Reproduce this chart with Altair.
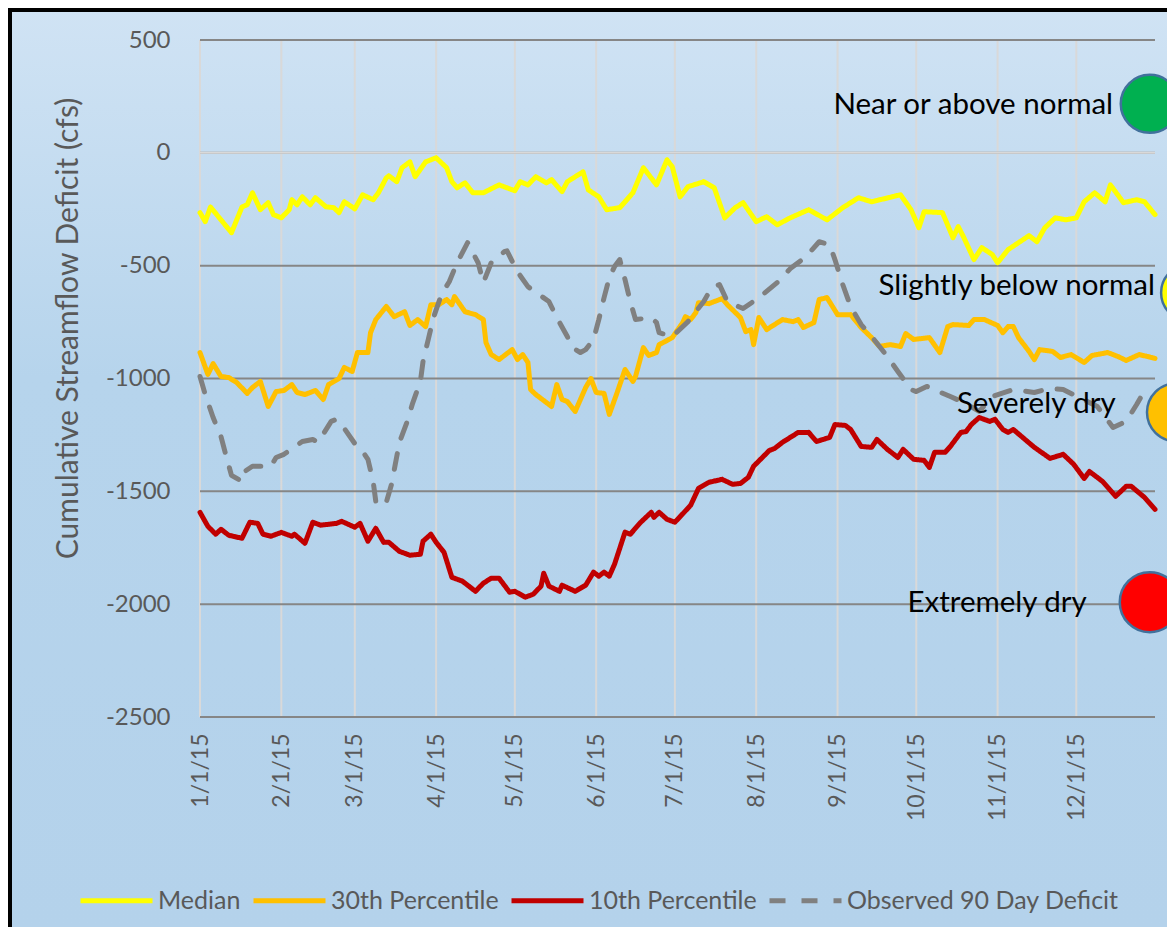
import altair as alt
import pandas as pd

# ---------------- data (day of year 2015, value in cfs) ----------------
series_names = ["Median", "30th Percentile", "10th Percentile", "Observed 90 Day Deficit"]
series_colors = ["#ffff00", "#ffc000", "#c00000", "#808080"]
series_dash = [[1, 0], [1, 0], [1, 0], [16, 16]]

median_pts = [(0,-265),(2,-305),(4,-240),(12,-354),(16,-240),(18,-230),(20,-177),(23,-252),(26,-221),(28,-274),
              (31,-288),(34,-252),(35,-208),(37,-230),(39,-195),(42,-230),(44,-199),(48,-239),(51,-243),(53,-265),
              (55,-217),(59,-248),(62,-186),(66,-208),(68,-177),(71,-111),(72,-102),(75,-128),(77,-66),(80,-40),
              (82,-106),(86,-40),(90,-22),(94,-66),(96,-128),(98,-155),(101,-133),(104,-177),(108,-177),(114,-142),
              (120,-168),(122,-128),(125,-142),(128,-106),(132,-133),(134,-119),(138,-172),(140,-128),(146,-84),
              (148,-164),(152,-195),(155,-252),(160,-243),(162,-217),(165,-177),(169,-66),(174,-142),(178,-31),
              (180,-62),(183,-195),(186,-150),(192,-128),(196,-155),(200,-288),(204,-243),(207,-221),(212,-305),
              (216,-283),(220,-319),(225,-288),(232,-252),(239,-297),(245,-243),(251,-199),(256,-217),(267,-186),
              (271,-252),(274,-332),(276,-261),(283,-265),(287,-376),(289,-327),(291,-372),(295,-473),(298,-420),
              (302,-451),(304,-487),(308,-429),(312,-398),(316,-367),(319,-394),(322,-332),(326,-288),(330,-297),
              (334,-288),(337,-217),(341,-177),(345,-217),(347,-142),(352,-221),(357,-208),(360,-217),(364,-274)]

p30_pts = [(0,-885),(3,-982),(5,-934),(8,-991),(11,-996),(14,-1018),(18,-1066),(20,-1040),(23,-1013),(26,-1124),
           (29,-1058),(32,-1053),(35,-1027),(37,-1062),(40,-1071),(44,-1053),(47,-1093),(49,-1027),(53,-1000),
           (55,-951),(58,-969),(60,-885),(64,-885),(65,-797),(67,-739),(71,-681),(74,-726),(78,-704),(80,-765),
           (83,-739),(86,-770),(88,-673),(91,-673),(94,-650),(96,-673),(97,-637),(101,-704),(105,-717),(108,-739),
           (109,-841),(111,-894),(114,-916),(119,-872),(121,-916),(123,-894),(125,-929),(126,-1049),(128,-1071),
           (134,-1124),(136,-1027),(138,-1093),(140,-1102),(143,-1146),(147,-1040),(149,-1000),(151,-1062),
           (154,-1066),(156,-1159),(159,-1062),(162,-960),(165,-1013),(166,-991),(169,-863),(171,-898),(174,-885),
           (175,-850),(180,-819),(184,-752),(185,-726),(187,-739),(189,-708),(190,-664),(194,-668),(199,-646),
           (201,-673),(206,-730),(208,-792),(210,-783),(211,-850),(213,-730),(216,-783),(222,-739),(226,-748),
           (228,-739),(230,-774),(234,-752),(236,-650),(239,-642),(243,-717),(248,-717),(252,-774),(256,-819),
           (259,-858),(263,-850),(267,-858),(269,-801),(272,-827),(278,-819),(282,-885),(285,-770),(287,-761),
           (293,-765),(295,-739),(299,-739),(304,-765),(306,-797),(308,-770),(310,-770),(312,-819),(316,-880),
           (318,-916),(320,-872),(325,-880),(328,-907),(332,-894),(337,-929),(340,-898),(346,-885),(350,-903),
           (353,-920),(358,-894),(364,-911)]

p10_pts = [(0,-1593),(3,-1655),(6,-1690),(8,-1668),(11,-1695),(16,-1708),(19,-1637),(22,-1642),(24,-1690),
           (27,-1699),(31,-1682),(35,-1699),(36,-1690),(40,-1730),(43,-1637),(46,-1650),(52,-1642),(54,-1633),
           (59,-1659),(61,-1642),(64,-1721),(67,-1664),(70,-1726),(72,-1726),(76,-1766),(80,-1783),(84,-1779),
           (85,-1721),(88,-1690),(90,-1726),(93,-1770),(96,-1881),(100,-1898),(105,-1943),(108,-1907),(111,-1885),
           (114,-1885),(118,-1947),(120,-1943),(124,-1969),(127,-1956),(130,-1920),(131,-1863),(133,-1920),
           (137,-1943),(138,-1916),(143,-1943),(147,-1916),(150,-1858),(152,-1876),(154,-1858),(156,-1876),
           (158,-1823),(162,-1681),(164,-1690),(168,-1637),(172,-1593),(173,-1615),(175,-1593),(178,-1624),
           (181,-1637),(187,-1562),(190,-1487),(194,-1460),(199,-1447),(203,-1469),(206,-1465),(209,-1438),
           (211,-1389),(217,-1319),(219,-1310),(222,-1283),(228,-1239),(232,-1239),(235,-1279),(240,-1261),
           (242,-1204),(246,-1208),(248,-1226),(252,-1301),(256,-1305),(258,-1270),(262,-1314),(266,-1350),
           (268,-1314),(272,-1358),(276,-1363),(278,-1394),(280,-1327),(284,-1327),(286,-1301),(290,-1239),
           (292,-1235),(294,-1204),(297,-1173),(301,-1190),(303,-1181),(306,-1226),(308,-1239),(310,-1226),
           (318,-1305),(324,-1354),(329,-1336),(333,-1380),(337,-1443),(339,-1412),(344,-1456),(349,-1522),
           (353,-1478),(355,-1478),(360,-1527),(364,-1580)]

obs_pts = [(0,-991),(2,-1071),(5,-1173),(8,-1257),(10,-1345),(12,-1429),(16,-1456),(17,-1412),(20,-1389),
           (27,-1389),(29,-1350),(32,-1336),(39,-1279),(43,-1270),(45,-1283),(50,-1190),(52,-1181),(55,-1221),
           (60,-1305),(62,-1323),(64,-1358),(66,-1456),(67,-1544),(69,-1566),(71,-1549),(73,-1469),(76,-1283),
           (79,-1190),(81,-1111),(84,-1013),(85,-925),(87,-827),(89,-730),(92,-628),(95,-571),(98,-487),
           (102,-398),(106,-487),(108,-575),(111,-487),(116,-438),(117,-434),(121,-527),(125,-593),(133,-659),
           (136,-730),(140,-814),(142,-863),(145,-885),(147,-872),(150,-827),(152,-739),(154,-642),(156,-553),
           (158,-504),(160,-473),(162,-562),(164,-659),(166,-739),(172,-730),(174,-752),(175,-797),(180,-814),
           (186,-748),(192,-659),(195,-597),(198,-584),(201,-659),(207,-690),(213,-642),(220,-575),(225,-513),
           (231,-460),(236,-394),(240,-407),(242,-473),(245,-584),(248,-681),(252,-761),(256,-814),(262,-903),
           (266,-969),(271,-1049),(273,-1058),(277,-1035),(286,-1080),(291,-1106),(297,-1146),(302,-1080),
           (310,-1049),(318,-1062),(324,-1044),(329,-1049),(335,-1084),(342,-1124),(348,-1217),(353,-1190),
           (357,-1115),(361,-1035)]

y_ticks = [500, 0, -500, -1000, -1500, -2000, -2500]
month_starts = ["2015-%02d-01" % m for m in range(1, 13)]
x_domain = ["2015-01-01", "2015-12-31"]

# status annotations (text right-aligned at date/value, circles at date/value)
status_text = ["Near or above normal", "Slightly below normal", "Severely dry", "Extremely dry"]
status_text_date = ["2015-12-15", "2015-12-31", "2015-12-16", "2015-12-05"]
status_text_val = [212, -589, -1111, -1996]
circle_date = ["2015-12-29", "2016-01-13", "2016-01-08", "2015-12-29"]
circle_val = [217, -620, -1150, -1991]
circle_fill = ["#00b050", "#ffff00", "#ffc000", "#ff0000"]
circle_size = [3364, 3136, 3364, 3600]

# ---------------- build tables ----------------
START = pd.Timestamp("2015-01-01")


def as_dates(days):
    return [(START + pd.Timedelta(days=int(d))).strftime("%Y-%m-%d") for d in days]


frames = []
for name, pts in zip(series_names, [median_pts, p30_pts, p10_pts, obs_pts]):
    days = [p[0] for p in pts]
    vals = [p[1] for p in pts]
    frames.append(pd.DataFrame({"date": as_dates(days), "value": vals, "series": name}))
lines_df = pd.concat(frames, ignore_index=True)

grid_y_df = pd.DataFrame({"value": y_ticks})
grid_x_df = pd.DataFrame({"date": month_starts})
zero_df = pd.DataFrame({"value": [0]})
text_df = pd.DataFrame({"date": status_text_date, "value": status_text_val, "label": status_text})
circ_df = pd.DataFrame({"date": circle_date, "value": circle_val, "fill": circle_fill, "size": circle_size})

FONT = "Lato"
GREY_TXT = "#595959"

x_scale = alt.Scale(type="utc", domain=x_domain)
y_scale = alt.Scale(domain=[-2500, 500], nice=False, zero=False)

x_axis = alt.Axis(
    values=[alt.DateTime(year=2015, month=m, date=1, utc=True) for m in range(1, 13)],
    labelExpr="utcFormat(datum.value, '%-m/%-d/%y')", labelAngle=270, grid=False, domain=False,
    ticks=False, labelFont=FONT, labelFontSize=23, labelColor=GREY_TXT, labelPadding=16,
    labelOverlap=False, title=None, zindex=1)
y_axis = alt.Axis(
    values=y_ticks, labelExpr="'' + datum.value", grid=False, domain=False, ticks=False,
    labelFont=FONT, labelFontSize=24, labelColor=GREY_TXT, labelPadding=30,
    title="Cumulative Streamflow Deficit (cfs)", titleFont=FONT, titleFontSize=30,
    titleFontWeight="normal", titleColor=GREY_TXT, titleX=-132, titleY=288, titleAngle=270,
    titleAlign="center", titleBaseline="middle", zindex=1)

X = lambda: alt.X("date:T", scale=x_scale, axis=x_axis)
Y = lambda: alt.Y("value:Q", scale=y_scale, axis=y_axis)

# ---------------- layers ----------------
one_row = alt.Data(values=[{"k": 1}])
bg = alt.Chart(one_row).mark_rect(
    fill=alt.LinearGradient(
        gradient="linear",
        stops=[alt.GradientStop(color="#d0e3f4", offset=0),
               alt.GradientStop(color="#b6d4ec", offset=0.4),
               alt.GradientStop(color="#b4d2eb", offset=1)],
        x1=0, x2=0, y1=0, y2=1,
    )
).encode(x=alt.value(-192), x2=alt.value(967), y=alt.value(-32), y2=alt.value(892))

border_left = alt.Chart(one_row).mark_rule(color="black", strokeWidth=4).encode(
    x=alt.value(-190), y=alt.value(-32), y2=alt.value(892))
border_top = alt.Chart(one_row).mark_rule(color="black", strokeWidth=4).encode(
    y=alt.value(-30), x=alt.value(-192), x2=alt.value(967))

grid_x = alt.Chart(grid_x_df).mark_rule(color="#d9d9d9", strokeWidth=2).encode(x=X())
grid_y = alt.Chart(grid_y_df).mark_rule(color="#868686", strokeWidth=2).encode(y=Y())
zero_line = alt.Chart(zero_df).mark_rule(color="#d9d9d9", strokeWidth=2).encode(y=Y())

legend = alt.Legend(
    title=None, orient="none", legendX=-122, legendY=822, direction="horizontal", columns=4,
    symbolType="stroke", symbolSize=5184, symbolStrokeWidth=5, labelFont=FONT, labelFontSize=25,
    labelColor=GREY_TXT, labelOffset=3, columnPadding=2, labelLimit=400, padding=0,
)

lines = alt.Chart(lines_df).mark_line(strokeWidth=5, strokeCap="round", strokeJoin="round").encode(
    x=X(),
    y=Y(),
    color=alt.Color("series:N", scale=alt.Scale(domain=series_names, range=series_colors), legend=legend),
    strokeDash=alt.StrokeDash("series:N", scale=alt.Scale(domain=series_names, range=series_dash),
                              legend=legend),
    order=alt.Order("date:T"),
)

circles = alt.Chart(circ_df).mark_point(shape="circle", filled=True, opacity=1, stroke="#41719c",
                                        strokeWidth=2.5).encode(
    x=X(),
    y=Y(),
    fill=alt.Fill("fill:N", scale=None),
    size=alt.Size("size:Q", scale=None),
)

texts = alt.Chart(text_df).mark_text(align="right", baseline="middle", font=FONT, fontSize=29.5,
                                     color="black").encode(
    x=X(),
    y=Y(),
    text="label:N",
)

chart = alt.layer(bg, border_left, border_top, grid_x, grid_y, zero_line, lines, circles, texts).properties(
    width=955, height=677,
    autosize=alt.AutoSizeParams(type="none"),
    padding={"left": 192, "top": 32, "right": 12, "bottom": 210},
    background="#b4d2eb",
).configure_view(stroke=None)

chart.save("out.html", embed_options={"renderer": "svg", "actions": False})
